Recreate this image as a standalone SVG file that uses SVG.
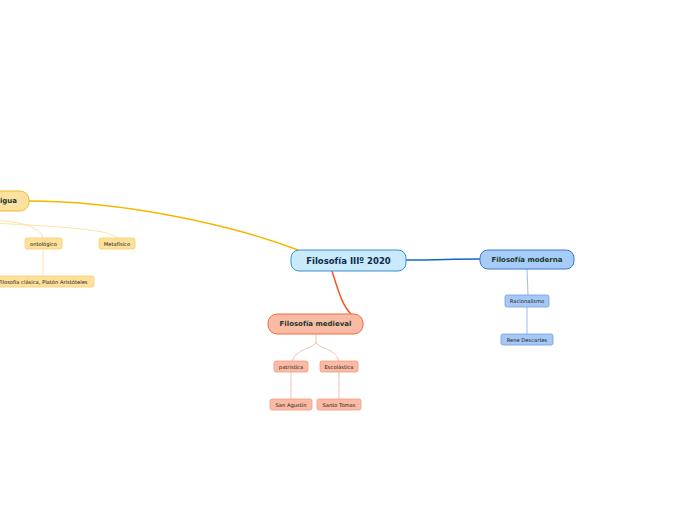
<svg xmlns="http://www.w3.org/2000/svg" width="696" height="520" viewBox="0 0 696 520">
<style>
text{font-family:"DejaVu Sans","Liberation Sans",sans-serif;text-anchor:middle;dominant-baseline:central}
.main{font-size:8.5px;font-weight:bold;fill:#0f2a4a}
.l1{font-size:7px;font-weight:bold;fill:#1b3a2c}
.l2{font-size:5.2px;fill:#222}
.c{fill:none}
</style>
<rect width="696" height="520" fill="#fff"/>
<g id="connectors">
<path class="c" d="M298 250 C230 224 120 201 29 201" stroke="#f7b500" stroke-width="1.5"/>
<path class="c" d="M406 260 C440 260 450 259 480 259" stroke="#1565c0" stroke-width="1.5"/>
<path class="c" d="M332 271 C338 290 342 305 351 314" stroke="#f05a28" stroke-width="1.5"/>
<path class="c" d="M527 269 L528 295" stroke="#9cbcec" stroke-width="1"/>
<path class="c" d="M527 307 L527 334" stroke="#9cbcec" stroke-width="1"/>
<path class="c" d="M316 334 L316 342 C316 348 296 348 292 361" stroke="#f9c0aa" stroke-width="1"/>
<path class="c" d="M316 342 C316 348 336 348 339 361" stroke="#f9c0aa" stroke-width="1"/>
<path class="c" d="M291 372 L291 399" stroke="#f9c0aa" stroke-width="1"/>
<path class="c" d="M339 372 L339 399" stroke="#f9c0aa" stroke-width="1"/>
<path class="c" d="M-5 220 C20 222 40 226 43 238" stroke="#fde3a6" stroke-width="1"/>
<path class="c" d="M-5 223 C40 226 110 228 117 238" stroke="#fde3a6" stroke-width="1"/>
<path class="c" d="M43 249 L43 276" stroke="#fde3a6" stroke-width="1"/>
</g>
<g id="main">
<rect x="291" y="250" width="115" height="21" rx="8" fill="#c8eafb" stroke="#3b8fd6" stroke-width="1"/>
<text class="main" x="348.5" y="261">Filosofía IIIº 2020</text>
</g>
<g id="moderna">
<rect x="480" y="250" width="94" height="19" rx="8" fill="#a7ccf6" stroke="#3a78d8" stroke-width="1"/>
<text class="l1" x="527" y="259.5">Filosofía moderna</text>
</g>
<g id="racionalismo">
<rect x="505" y="295" width="44" height="12" rx="2" fill="#a7c8f5" stroke="#6f9ee2" stroke-width="0.8"/>
<text class="l2" x="527" y="301">Racionalismo</text>
</g>
<g id="descartes">
<rect x="501" y="334" width="52" height="11" rx="2" fill="#a7c8f5" stroke="#6f9ee2" stroke-width="0.8"/>
<text class="l2" x="527" y="339.5">Rene Descartes</text>
</g>
<g id="medieval">
<rect x="268" y="314" width="95" height="20" rx="9" fill="#fabba5" stroke="#f06a40" stroke-width="1"/>
<text class="l1" x="315.5" y="324">Filosofía medieval</text>
</g>
<g id="patristica">
<rect x="274" y="361" width="34" height="11" rx="2" fill="#fbbaa4" stroke="#f59a7e" stroke-width="0.8"/>
<text class="l2" x="291" y="366.5">patrística</text>
</g>
<g id="escolastica">
<rect x="320" y="361" width="38" height="11" rx="2" fill="#fbbaa4" stroke="#f59a7e" stroke-width="0.8"/>
<text class="l2" x="339" y="366.5">Escolástica</text>
</g>
<g id="agustin">
<rect x="270" y="399" width="42" height="11" rx="2" fill="#fbbaa4" stroke="#f59a7e" stroke-width="0.8"/>
<text class="l2" x="291" y="404.5">San Agustín</text>
</g>
<g id="tomas">
<rect x="317" y="399" width="44" height="11" rx="2" fill="#fbbaa4" stroke="#f59a7e" stroke-width="0.8"/>
<text class="l2" x="339" y="404.5">Santo Tomas</text>
</g>
<g id="antigua">
<rect x="-66" y="191" width="95" height="20" rx="9" fill="#fde1a0" stroke="#f5b82a" stroke-width="1"/>
<text class="l1" x="-16" y="201">Filosofía antigua</text>
</g>
<g id="ontologico">
<rect x="25" y="238" width="37" height="11" rx="2" fill="#fde09a" stroke="#f7cf6e" stroke-width="0.8"/>
<text class="l2" x="43.5" y="243.5">ontológico</text>
</g>
<g id="metafisico">
<rect x="99" y="238" width="36" height="11" rx="2" fill="#fde09a" stroke="#f7cf6e" stroke-width="0.8"/>
<text class="l2" x="117" y="243.5">Metafísico</text>
</g>
<g id="clasica">
<rect x="-8" y="276" width="102" height="11" rx="2" fill="#fde09a" stroke="#f7cf6e" stroke-width="0.8"/>
<text class="l2" x="43" y="281.5">Filosofía clásica, Platón Aristóteles</text>
</g>
</svg>
